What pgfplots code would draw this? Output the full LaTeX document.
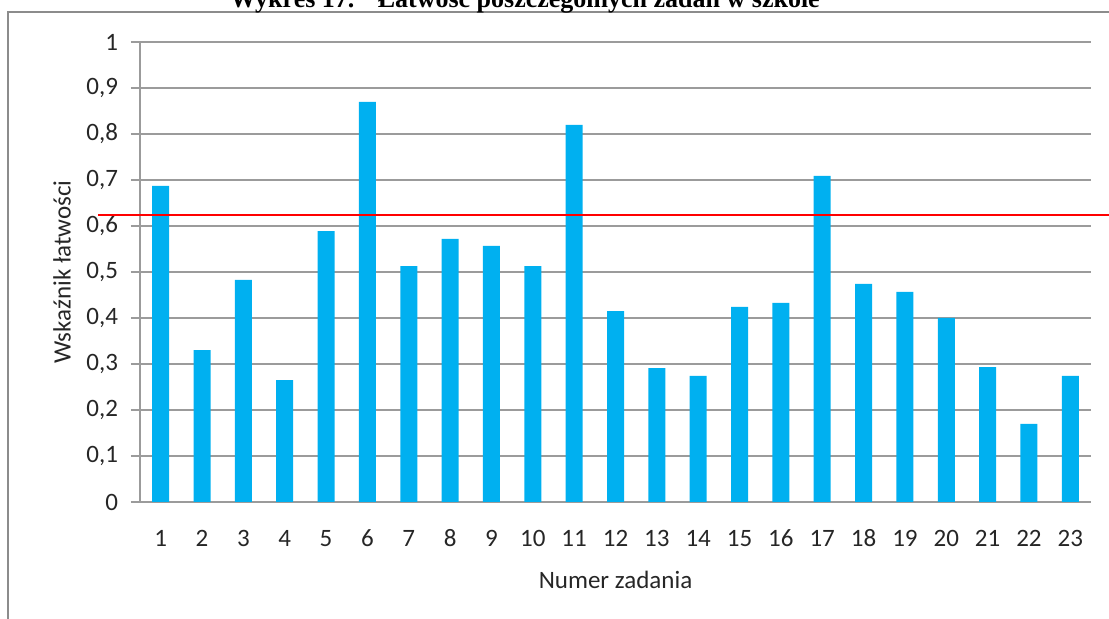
\documentclass[border=0pt]{standalone}
\usepackage{pgfplots}
\pgfplotsset{compat=1.18}
\usepackage{fontspec}
\setmainfont{Carlito}
\newfontfamily\titlefont{Liberation Serif}
\definecolor{barblue}{RGB}{0,176,240}
\definecolor{gridgray}{RGB}{155,155,155}
\definecolor{framegray}{RGB}{140,140,140}
\begin{document}
\begin{tikzpicture}
\useasboundingbox (0,0) rectangle (554.5pt,309.5pt);
\clip (0,0) rectangle (554.5pt,309.5pt);
\draw[framegray, line width=0.8pt] (4pt,-5pt) -- (4pt,303.5pt) -- (560pt,303.5pt);
\node[font=\titlefont\bfseries\fontsize{13}{15}\selectfont, anchor=base, inner sep=0pt] at (262.5pt,305.5pt) {Wykres 17.\hspace{0.9em}Łatwość poszczególnych zadań w szkole};
\begin{axis}[
  at={(70pt,58.5pt)}, anchor=south west,
  scale only axis, width=475.5pt, height=230pt,
  xmin=0.5, xmax=23.5, ymin=0, ymax=1,
  clip=false,
  axis x line*=bottom, axis y line*=left,
  axis line style={gridgray, line width=0.75pt},
  xtick={1,...,23},
  ytick={0,0.1,0.2,0.3,0.4,0.5,0.6,0.7,0.8,0.9,1},
  yticklabels={0,{0,1},{0,2},{0,3},{0,4},{0,5},{0,6},{0,7},{0,8},{0,9},1},
  /pgf/number format/assume math mode=true,
  ymajorgrids,
  grid style={gridgray, line width=0.75pt},
  tick align=outside,
  major tick length=4.5pt,
  xtick style={draw=none},
  ytick style={gridgray, line width=0.75pt},
  tick label style={font=\fontsize{12.5}{14}\selectfont, text=black!85},
  xticklabel style={anchor=north, text height=9pt, text depth=0pt, yshift=-5pt},
  yticklabel style={xshift=-3pt},
]
\addplot[ybar, bar width=8.5pt, fill=barblue, draw=none] coordinates {
(1,0.687) (2,0.330) (3,0.483) (4,0.265) (5,0.589) (6,0.870) (7,0.513)
(8,0.572) (9,0.557) (10,0.513) (11,0.820) (12,0.415) (13,0.291) (14,0.274)
(15,0.424) (16,0.433) (17,0.709) (18,0.474) (19,0.457) (20,0.400) (21,0.293)
(22,0.170) (23,0.274)};
\addplot[red, line width=1pt, sharp plot, forget plot] coordinates {(-0.52,0.624) (24.5,0.624)};
\node[rotate=90, font=\fontsize{12.5}{14}\selectfont, text=black!85] at (axis description cs:-0.082,0.5) {Wskaźnik łatwości};
\node[font=\fontsize{12.5}{14}\selectfont, text=black!85] at (axis description cs:0.5,-0.17) {Numer zadania};
\end{axis}
\end{tikzpicture}
\end{document}
